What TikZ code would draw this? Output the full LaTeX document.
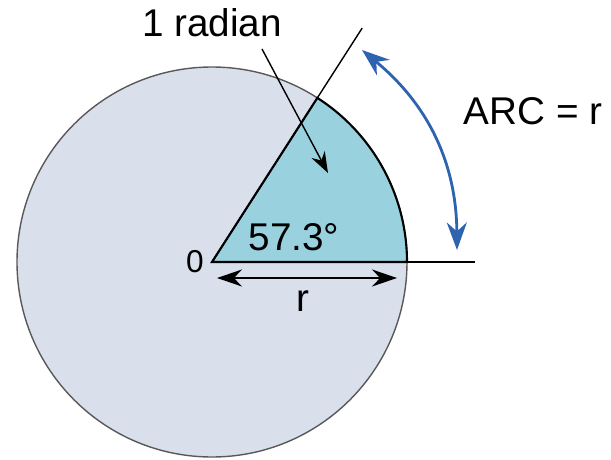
\documentclass[tikz,border=0pt]{standalone}
\usepackage{fontspec}
\setmainfont{Liberation Sans}
\usetikzlibrary{arrows.meta, positioning, calc}
\definecolor{discfill}{RGB}{217,224,236}
\definecolor{sectfill}{RGB}{153,210,222}
\definecolor{arcblue}{RGB}{46,99,175}

\begin{document}
\begin{tikzpicture}[
    lbl/.style={font=\fontsize{22}{26}\selectfont, inner sep=0pt},
    disc/.style={draw=black!65, fill=discfill, line width=0.8pt},
    sect/.style={draw=black, fill=sectfill, line width=1.2pt},
    ray/.style={draw=black, line width=0.8pt},
    arr/.style={-{Stealth[length=0.42cm, width=0.3cm]}, line width=0.8pt},
    darr/.style={{Stealth[length=0.5cm, width=0.34cm]}-{Stealth[length=0.5cm, width=0.34cm]}, line width=1.1pt},
    barr/.style={{Stealth[length=0.55cm, width=0.4cm]}-{Stealth[length=0.55cm, width=0.4cm]}, draw=arcblue, line width=1.6pt}
]
\useasboundingbox (-4.24,-3.94) rectangle (7.98,5.24);
% Unit circle of radius r, centred at O
\coordinate (O) at (0,0);
\coordinate (Q) at (3.9,0);
\coordinate (P) at (57.3:3.9);
\coordinate (R) at (57.3:5.56);
\coordinate (H) at (5.26,0);
\draw[disc] (O) circle (3.9);
% Sector of one radian: arc length equals r
\filldraw[sect] (O) -- (Q) arc (0:57.3:3.9) -- cycle;
\draw[ray] (O) -- (R);
\draw[ray] (O) -- (H);
% Labels
\node[lbl] (rad)  at (0,4.78)     {1 radian};
\node[lbl] (ang)  at (1.64,0.5)   {57.3°};
\node[lbl, font=\fontsize{18}{22}\selectfont] (zero) at (-0.34,0) {0};
\node[lbl] (rlbl) at (1.82,-0.78) {r};
\node[lbl] (arcl) at (6.42,3.02)  {ARC = r};
% Pointer and dimension arrows
\coordinate (radA) at (1.0,4.26);
\coordinate (radB) at (2.32,1.78);
\draw[arr] (radA) -- (radB);
\coordinate (rA) at (0.1,-0.32);
\coordinate (rB) at (3.7,-0.32);
\draw[darr] (rA) -- (rB);
\coordinate (arcA) at (3.0,4.24);
\coordinate (arcB) at (4.9,0.24);
\draw[barr] (arcA) to[bend left=25] (arcB);
\end{tikzpicture}
\end{document}
